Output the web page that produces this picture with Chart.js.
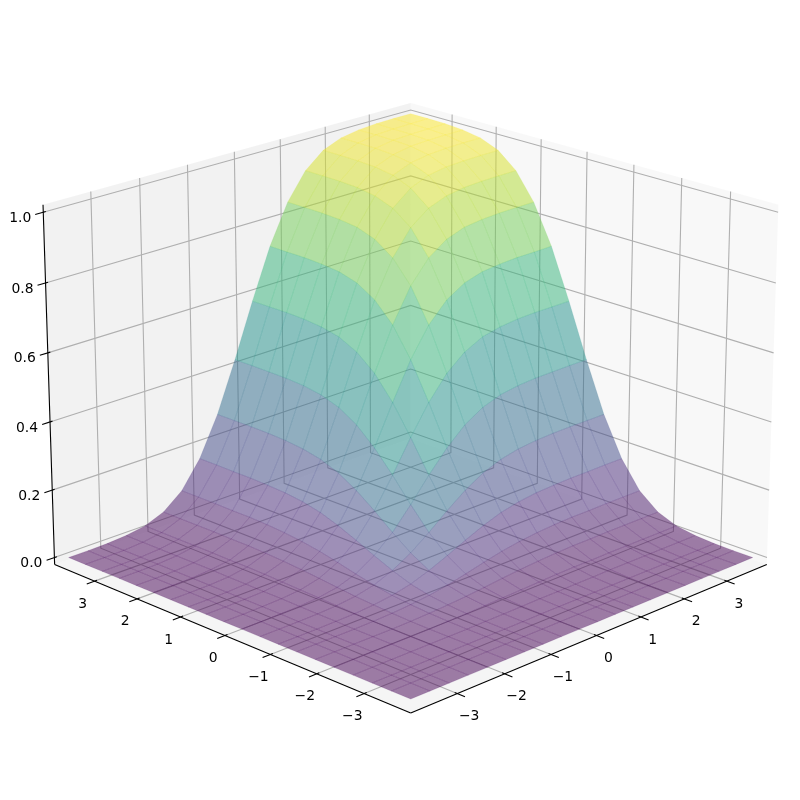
<!DOCTYPE html>
<html>
<head>
<meta charset="utf-8">
<style>
  body { margin: 0; background: #fff; }
  canvas { display: block; }
</style>
<script src="https://cdn.jsdelivr.net/npm/chart.js@4/dist/chart.umd.min.js"></script>
</head>
<body>
<canvas id="chart" width="800" height="800"></canvas>
<script>
// mesh positions along x and y
const gridX = [-3.8, -3.4, -3.0, -2.6, -2.2, -1.8, -1.4, -1.0, -0.6, -0.2, 0.2, 0.6, 1.0, 1.4, 1.8, 2.2, 2.6, 3.0, 3.4, 3.8];
const gridY = [-3.8, -3.4, -3.0, -2.6, -2.2, -1.8, -1.4, -1.0, -0.6, -0.2, 0.2, 0.6, 1.0, 1.4, 1.8, 2.2, 2.6, 3.0, 3.4, 3.8];

// surface height, one row per gridY value
const heights = [
  [0, 0, 0, 0, 0, 0, 0, 0, 0, 0, 0, 0, 0, 0, 0, 0, 0, 0, 0, 0],
  [0, 0, 0, 0, 0, 0, 0, 0, 0, 0, 0, 0, 0, 0, 0, 0, 0, 0, 0, 0],
  [0, 0, 0, 0, 0, 0, 0, 0, 0, 0.001, 0.001, 0.001, 0.001, 0.001, 0.001, 0.001, 0.001, 0.001, 0.001, 0.001],
  [0, 0, 0, 0, 0, 0, 0, 0.001, 0.001, 0.002, 0.003, 0.003, 0.004, 0.004, 0.005, 0.005, 0.005, 0.005, 0.005, 0.005],
  [0, 0, 0, 0, 0, 0, 0.001, 0.002, 0.004, 0.006, 0.008, 0.010, 0.012, 0.013, 0.013, 0.014, 0.014, 0.014, 0.014, 0.014],
  [0, 0, 0, 0, 0, 0.001, 0.003, 0.006, 0.010, 0.015, 0.021, 0.026, 0.030, 0.033, 0.035, 0.035, 0.036, 0.036, 0.036, 0.036],
  [0, 0, 0, 0, 0.001, 0.003, 0.007, 0.013, 0.022, 0.034, 0.047, 0.059, 0.068, 0.074, 0.078, 0.080, 0.080, 0.081, 0.081, 0.081],
  [0, 0, 0, 0.001, 0.002, 0.006, 0.013, 0.025, 0.044, 0.067, 0.092, 0.115, 0.134, 0.146, 0.153, 0.156, 0.158, 0.158, 0.159, 0.159],
  [0, 0, 0, 0.001, 0.004, 0.010, 0.022, 0.044, 0.075, 0.115, 0.159, 0.199, 0.231, 0.252, 0.264, 0.270, 0.273, 0.274, 0.274, 0.274],
  [0, 0, 0.001, 0.002, 0.006, 0.015, 0.034, 0.067, 0.115, 0.177, 0.244, 0.305, 0.354, 0.387, 0.406, 0.415, 0.419, 0.420, 0.421, 0.421],
  [0, 0, 0.001, 0.003, 0.008, 0.021, 0.047, 0.092, 0.159, 0.244, 0.336, 0.420, 0.487, 0.532, 0.559, 0.571, 0.577, 0.579, 0.579, 0.579],
  [0, 0, 0.001, 0.003, 0.010, 0.026, 0.059, 0.115, 0.199, 0.305, 0.420, 0.527, 0.611, 0.667, 0.700, 0.716, 0.722, 0.725, 0.725, 0.726],
  [0, 0, 0.001, 0.004, 0.012, 0.030, 0.068, 0.134, 0.231, 0.354, 0.487, 0.611, 0.708, 0.773, 0.811, 0.830, 0.837, 0.840, 0.841, 0.841],
  [0, 0, 0.001, 0.004, 0.013, 0.033, 0.074, 0.146, 0.252, 0.387, 0.532, 0.667, 0.773, 0.845, 0.886, 0.906, 0.915, 0.918, 0.919, 0.919],
  [0, 0, 0.001, 0.005, 0.013, 0.035, 0.078, 0.153, 0.264, 0.406, 0.559, 0.700, 0.811, 0.886, 0.929, 0.951, 0.960, 0.963, 0.964, 0.964],
  [0, 0, 0.001, 0.005, 0.014, 0.035, 0.080, 0.156, 0.270, 0.415, 0.571, 0.716, 0.830, 0.906, 0.951, 0.972, 0.981, 0.985, 0.986, 0.986],
  [0, 0, 0.001, 0.005, 0.014, 0.036, 0.080, 0.158, 0.273, 0.419, 0.577, 0.722, 0.837, 0.915, 0.960, 0.981, 0.991, 0.994, 0.995, 0.995],
  [0, 0, 0.001, 0.005, 0.014, 0.036, 0.081, 0.158, 0.274, 0.420, 0.579, 0.725, 0.840, 0.918, 0.963, 0.985, 0.994, 0.997, 0.998, 0.999],
  [0, 0, 0.001, 0.005, 0.014, 0.036, 0.081, 0.159, 0.274, 0.421, 0.579, 0.725, 0.841, 0.919, 0.964, 0.986, 0.995, 0.998, 0.999, 1],
  [0, 0, 0.001, 0.005, 0.014, 0.036, 0.081, 0.159, 0.274, 0.421, 0.579, 0.726, 0.841, 0.919, 0.964, 0.986, 0.995, 0.999, 1, 1],
];

// colormap position of each L-shaped strip of faces, outermost strip first
const stripShades = [0, 0.001, 0.003, 0.009, 0.025, 0.058, 0.12, 0.217, 0.348, 0.5, 0.652, 0.783, 0.88, 0.942, 0.975, 0.991, 0.997, 0.999, 1];
// same for the faces on the x = y diagonal
const diagonalShades = [0, 0, 0.001, 0.004, 0.012, 0.032, 0.07, 0.14, 0.243, 0.378, 0.53, 0.678, 0.804, 0.892, 0.949, 0.978, 0.992, 0.997, 0.999];

const xTicks = [-3, -2, -1, 0, 1, 2, 3];
const yTicks = [-3, -2, -1, 0, 1, 2, 3];
const zTicks = [0, 0.2, 0.4, 0.6, 0.8, 1];
const xTickLabels = ["\u22123", "\u22122", "\u22121", "0", "1", "2", "3"];
const yTickLabels = ["\u22123", "\u22122", "\u22121", "0", "1", "2", "3"];
const zTickLabels = ["0.0", "0.2", "0.4", "0.6", "0.8", "1.0"];

const viridis = [[68, 1, 84], [72, 36, 117], [65, 68, 135], [53, 95, 141], [42, 120, 142], [33, 145, 140], [34, 168, 132], [68, 191, 112], [122, 209, 81], [189, 223, 38], [253, 231, 37]];

// axis limits and camera
const xyLim = 3.958;
const zMin = -0.0208, zMax = 1.0208;
const elev = 20 * Math.PI / 180, azim = -135 * Math.PI / 180, dist = 10;
const boxXY = 0.627, boxZ = 0.469;
const pxPerUnit = 4080, centerX = 410.7, centerY = 387.5;

const right = [-Math.sin(azim), Math.cos(azim), 0];
const toEye = [Math.cos(elev) * Math.cos(azim), Math.cos(elev) * Math.sin(azim), Math.sin(elev)];
const up = [-Math.sin(elev) * Math.cos(azim), -Math.sin(elev) * Math.sin(azim), Math.cos(elev)];
const dot = (a, b) => a[0] * b[0] + a[1] * b[1] + a[2] * b[2];

function toBox(x, y, z) {
    return [x / xyLim * boxXY, y / xyLim * boxXY, ((z - zMin) / (zMax - zMin) - 0.5) * 2 * boxZ];
}

function project(x, y, z) {
    const p = toBox(x, y, z);
    const d = dist - dot(p, toEye);
    return { x: dot(p, right) / d, y: dot(p, up) / d };
}

function depth(x, y, z) {
    return dist - dot(toBox(x, y, z), toEye);
}

function shadeColor(t, alpha) {
    const pos = Math.min(t, 1) * (viridis.length - 1);
    const i = Math.min(Math.floor(pos), viridis.length - 2);
    const f = pos - i;
    const c = viridis[i].map((v, n) => Math.round(v + (viridis[i + 1][n] - v) * f));
    return `rgba(${c[0]}, ${c[1]}, ${c[2]}, ${alpha})`;
}

function polyline(points, color, width) {
    return {
        data: points.map(p => project(p[0], p[1], p[2])),
        showLine: true, fill: false, pointRadius: 0, tension: 0,
        borderColor: color, borderWidth: width,
    };
}

function polygon(points, fillColor, edgeColor, edgeWidth) {
    const closed = points.concat([points[0]]);
    return {
        data: closed.map(p => project(p[0], p[1], p[2])),
        showLine: true, fill: "shape", pointRadius: 0, tension: 0,
        backgroundColor: fillColor, borderColor: edgeColor, borderWidth: edgeWidth,
    };
}

// surface faces, nearest first (chart.js paints the first dataset last)
const faces = [];
for (let j = 0; j < gridY.length - 1; j++) {
    for (let i = 0; i < gridX.length - 1; i++) {
        const corners = [
            [gridX[i], gridY[j], heights[j][i]],
            [gridX[i + 1], gridY[j], heights[j][i + 1]],
            [gridX[i + 1], gridY[j + 1], heights[j + 1][i + 1]],
            [gridX[i], gridY[j + 1], heights[j + 1][i]],
        ];
        const d = corners.reduce((acc, c) => acc + depth(c[0], c[1], c[2]), 0) / 4;
        const shade = i === j ? diagonalShades[i] : stripShades[Math.min(i, j)];
        faces.push({ d, ds: polygon(corners, shadeColor(shade, 0.5), shadeColor(shade, 0.28), 0.5) });
    }
}
faces.sort((a, b) => a.d - b.d);

const datasets = faces.map(f => f.ds);

// axis lines and tick marks
const L = xyLim, tickOut = 0.16, tickIn = 0.05;
const axisColor = "#000000", gridColor = "#b0b0b0";
datasets.push(polyline([[-L, -L, zMin], [L, -L, zMin]], axisColor, 1.1));
datasets.push(polyline([[-L, -L, zMin], [-L, L, zMin]], axisColor, 1.1));
datasets.push(polyline([[-L, L, zMin], [-L, L, zMax]], axisColor, 1.1));
xTicks.forEach(t => datasets.push(polyline([[t, -L - tickOut, zMin], [t, -L + tickIn, zMin]], axisColor, 1.1)));
yTicks.forEach(t => datasets.push(polyline([[-L - tickOut, t, zMin], [-L + tickIn, t, zMin]], axisColor, 1.1)));
zTicks.forEach(t => datasets.push(polyline([[-L - tickOut, L, t], [-L + tickIn, L, t]], axisColor, 1.1)));

// grid lines on the panes
xTicks.forEach(t => datasets.push(polyline([[t, -L, zMin], [t, L, zMin], [t, L, zMax]], gridColor, 1.1)));
yTicks.forEach(t => datasets.push(polyline([[-L, t, zMin], [L, t, zMin], [L, t, zMax]], gridColor, 1.1)));
zTicks.forEach(t => datasets.push(polyline([[-L, L, t], [L, L, t], [L, -L, t]], gridColor, 1.1)));

// panes
datasets.push(polygon([[-L, -L, zMin], [L, -L, zMin], [L, L, zMin], [-L, L, zMin]], "rgba(236, 236, 236, 0.5)", "rgba(0,0,0,0)", 0));
datasets.push(polygon([[L, -L, zMin], [L, L, zMin], [L, L, zMax], [L, -L, zMax]], "rgba(242, 242, 242, 0.5)", "rgba(0,0,0,0)", 0));
datasets.push(polygon([[-L, L, zMin], [L, L, zMin], [L, L, zMax], [-L, L, zMax]], "rgba(230, 230, 230, 0.5)", "rgba(0,0,0,0)", 0));

const tickText = {
    id: "tickText",
    afterDatasetsDraw(chart) {
        const { ctx, scales } = chart;
        ctx.save();
        ctx.fillStyle = "#000";
        ctx.font = "13.9px 'DejaVu Sans'";
        ctx.textAlign = "center";
        ctx.textBaseline = "middle";
        const put = (text, p, dx, dy) => {
            ctx.fillText(text, scales.x.getPixelForValue(p.x) + dx, scales.y.getPixelForValue(p.y) + dy);
        };
        xTicks.forEach((t, i) => put(xTickLabels[i], project(t, -L, zMin), 12, 23));
        yTicks.forEach((t, i) => put(yTickLabels[i], project(-L, t, zMin), -12, 23));
        zTicks.forEach((t, i) => put(zTickLabels[i], project(-L, L, t), -23, 6));
        ctx.restore();
    },
};

new Chart(document.getElementById("chart"), {
    type: "scatter",
    data: { datasets },
    options: {
        responsive: false,
        animation: false,
        events: [],
        layout: { padding: 0 },
        plugins: { legend: { display: false }, tooltip: { enabled: false } },
        scales: {
            x: { display: false, min: -centerX / pxPerUnit, max: (800 - centerX) / pxPerUnit },
            y: { display: false, min: -(800 - centerY) / pxPerUnit, max: centerY / pxPerUnit },
        },
    },
    plugins: [tickText],
});
</script>
</body>
</html>
